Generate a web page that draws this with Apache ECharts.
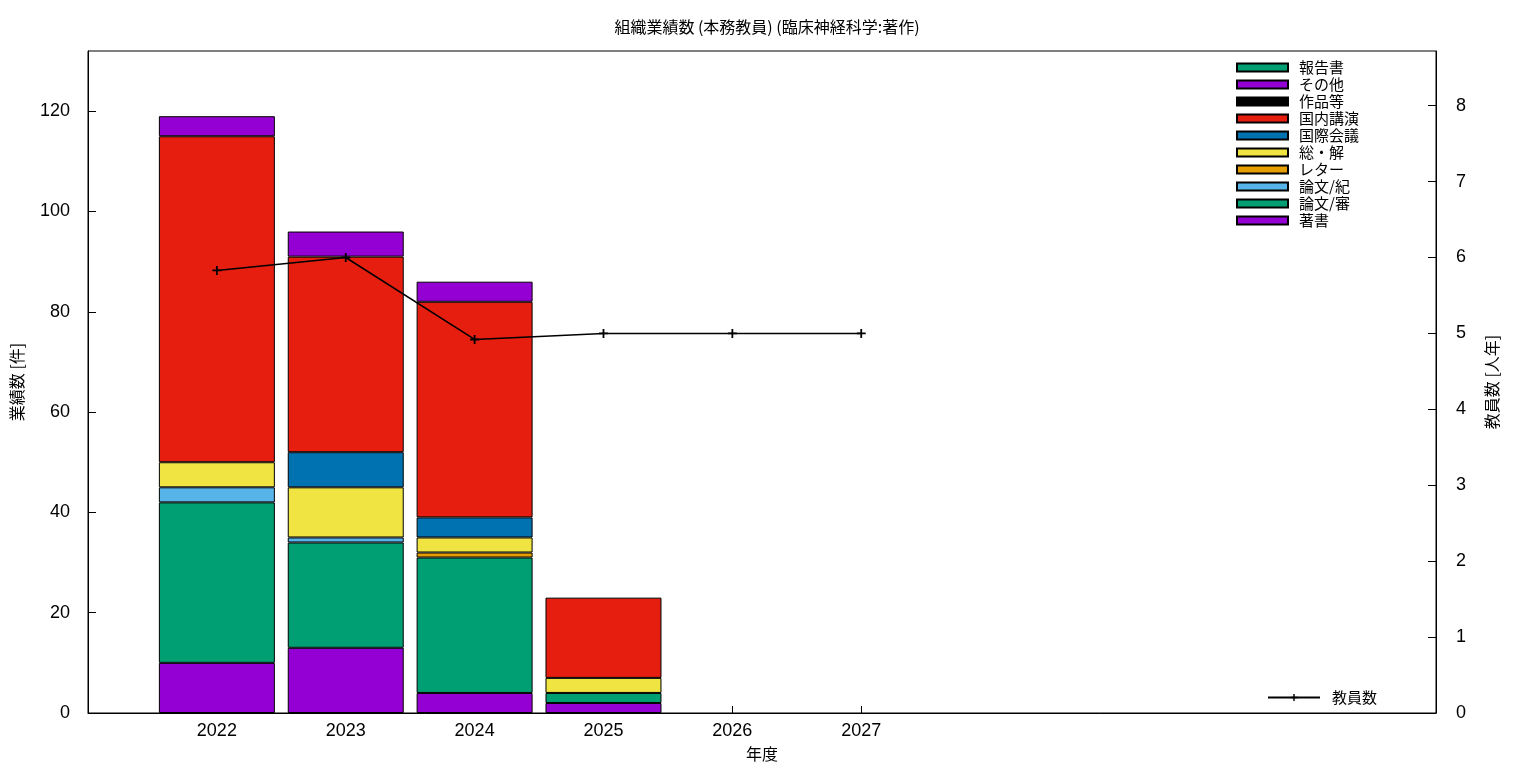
<!DOCTYPE html>
<html><head><meta charset="utf-8">
<script src="https://cdn.jsdelivr.net/npm/echarts@6/dist/echarts.min.js"></script>
<style>html,body{margin:0;padding:0;background:#fff}#c{width:1536px;height:768px}</style>
</head><body><div id="c"></div>
<script>
const years = ['2022','2023','2024','2025','2026','2027'];
const chosho   = [10,13,4,2,0,0];   // 著書
const ronbunShin = [32,21,27,2,0,0]; // 論文/審
const ronbunKi = [3,1,0,0,0,0];     // 論文/紀
const letter   = [0,0,1,0,0,0];     // レター
const soukai   = [5,10,3,3,0,0];    // 総・解
const kokusai  = [0,7,4,0,0,0];     // 国際会議
const kokunai  = [65,39,43,16,0,0]; // 国内講演
const sakuhin  = [0,0,0,0,0,0];     // 作品等
const sonota   = [4,5,4,0,0,0];     // その他
const houkoku  = [0,0,0,0,0,0];     // 報告書
const kyouin   = [5.83,6.0,4.92,5,5,5]; // 教員数
const leftTicks = {min:0, max:132, interval:20};
const rightTicks = {min:0, max:8.72, interval:1};

const FONT = "'Liberation Sans','Noto Sans CJK JP',sans-serif";
const CJK = "'Noto Sans CJK JP','Liberation Sans',sans-serif";
const stackDefs = [
  ['著書', chosho, '#9400d3'],
  ['論文/審', ronbunShin, '#009e73'],
  ['論文/紀', ronbunKi, '#56b4e9'],
  ['レター', letter, '#e69f00'],
  ['総・解', soukai, '#f0e442'],
  ['国際会議', kokusai, '#0072b2'],
  ['国内講演', kokunai, '#e51e10'],
  ['作品等', sakuhin, '#000000'],
  ['その他', sonota, '#9400d3'],
  ['報告書', houkoku, '#009e73']
];
const barSeries = stackDefs.map(([name, data, color]) => ({
  name, type:'bar', stack:'total', data: data.map(v => v === 0 ? '-' : v), xAxisIndex:1, yAxisIndex:2,
  barWidth:'90%',
  itemStyle:{color, borderColor:'#000', borderWidth:1},
  emphasis:{disabled:true}, animation:false
}));
const plus = 'path://M4,0H6V4H10V6H6V10H4V6H0V4H4Z';
const u = 1348/10.46;
const g2left = 88 + 0.5*u, g2width = 6*u;

const chart = echarts.init(document.getElementById('c'));
chart.setOption({
  animation:false,
  backgroundColor:'#fff',
  title:{text:'組織業績数 (本務教員) (臨床神経科学:著作)', left:762, textAlign:'center', top:14,
    textStyle:{fontFamily:CJK, fontSize:16, fontWeight:'normal', color:'#000'}},
  grid:[
    {left:88, top:51, right:100, bottom:55, show:true, borderColor:'#000', borderWidth:1, backgroundColor:'transparent'},
    {left:g2left, top:51, width:g2width, bottom:55}
  ],
  xAxis:[
    {type:'value', gridIndex:0, min:0, max:1, show:true, axisLine:{show:true, lineStyle:{color:'#000'}}, axisTick:{show:false}, axisLabel:{show:false}, splitLine:{show:false},
     name:'年度', nameLocation:'middle', nameGap:33, nameTextStyle:{fontFamily:CJK, fontSize:16, color:'#000'}},
    {type:'category', gridIndex:1, data:years, boundaryGap:true,
     axisLine:{show:false}, axisTick:{show:true, inside:true, alignWithLabel:true, length:7, lineStyle:{color:'#000'}},
     axisLabel:{fontFamily:FONT, fontSize:18, color:'#000', margin:9}}
  ],
  yAxis:[
    {type:'value', gridIndex:0, position:'left', min:leftTicks.min, max:leftTicks.max, interval:leftTicks.interval,
     axisLine:{show:true, lineStyle:{color:'#000'}}, axisTick:{show:true, inside:true, length:8, lineStyle:{color:'#000'}},
     splitLine:{show:false}, axisLabel:{fontFamily:FONT, fontSize:18, color:'#000', margin:18, showMaxLabel:false},
     name:'業績数 [件]', nameLocation:'middle', nameGap:63, nameRotate:90, nameTextStyle:{fontFamily:CJK, fontSize:16, color:'#000'}},
    {type:'value', gridIndex:0, position:'right', min:rightTicks.min, max:rightTicks.max, interval:rightTicks.interval,
     axisLine:{show:true, lineStyle:{color:'#000'}}, axisTick:{show:true, inside:true, length:8, lineStyle:{color:'#000'}},
     splitLine:{show:false}, axisLabel:{fontFamily:FONT, fontSize:18, color:'#000', margin:20, showMaxLabel:false},
     name:'教員数 [人年]', nameLocation:'middle', nameGap:48, nameRotate:90, nameTextStyle:{fontFamily:CJK, fontSize:16, color:'#000'}},
    {type:'value', gridIndex:1, min:leftTicks.min, max:leftTicks.max, show:false},
    {type:'value', gridIndex:1, min:rightTicks.min, max:rightTicks.max, show:false}
  ],
  legend:[
    {orient:'vertical', left:1231, top:54, itemWidth:51, itemHeight:8, itemGap:0, icon:'rect',
     data:stackDefs.map(d=>d[0]).reverse(),
     textStyle:{fontFamily:CJK, fontSize:15, color:'#000', lineHeight:17, padding:[0,0,0,6]}, selectedMode:false},
    {orient:'vertical', left:1262, top:685, itemWidth:52, itemHeight:9, data:['教員数'],
     textStyle:{fontFamily:CJK, fontSize:15, color:'#000', padding:[0,0,0,7]}, selectedMode:false}
  ],
  series:[...barSeries,
    {name:'教員数', type:'line', data:kyouin, xAxisIndex:1, yAxisIndex:3, z:10,
     symbol:plus, symbolSize:9, showSymbol:true,
     lineStyle:{color:'#000', width:1.5}, itemStyle:{color:'#000'}, emphasis:{disabled:true}}
  ]
});
</script></body></html>
